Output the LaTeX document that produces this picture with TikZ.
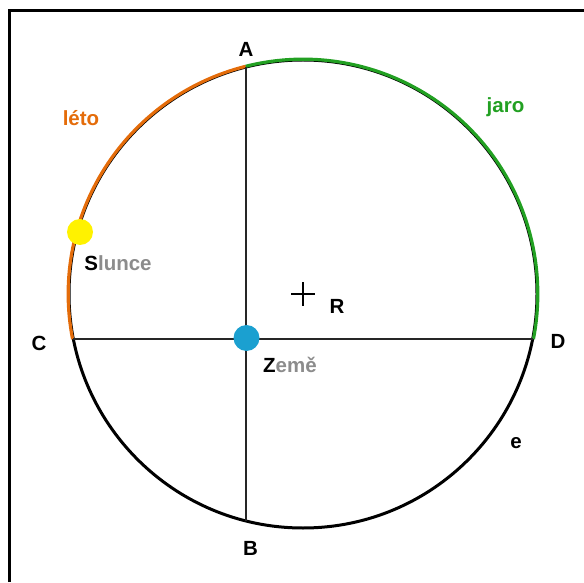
\documentclass[tikz,border=0pt]{standalone}
\usepackage{fontspec}
\usetikzlibrary{calc}
\setmainfont{Liberation Sans}
\definecolor{leto}{RGB}{228,108,10}
\definecolor{jaro}{RGB}{34,160,34}
\definecolor{zeme}{RGB}{27,160,208}
\definecolor{txtgray}{RGB}{140,140,140}
\begin{document}
\begin{tikzpicture}[x=1pt,y=1pt,
  lbl/.style={anchor=base,inner sep=0pt,font=\fontsize{20.5}{24}\selectfont\bfseries},
  dot/.style={circle,inner sep=0pt,minimum size=26pt},
  axis/.style={line width=1.6pt,black!85}]
\useasboundingbox (0,0) rectangle (584,582);
% frame
\draw[line width=3pt] (9.5,0) -- (9.5,571.5) -- (584,571.5);
% centre and points
\coordinate (O) at (303,288);
\coordinate (A) at ($(O)+(104.1:234pt)$);
\coordinate (B) at ($(O)+(255.9:234pt)$);
\coordinate (C) at ($(O)+(191.1:234pt)$);
\coordinate (D) at ($(O)+(-11.1:234pt)$);
% orbit
\draw[line width=3pt] (O) circle[radius=234pt];
\draw[line width=3.2pt,leto] ($(O)+(104.1:234.8pt)$) arc[start angle=104.1,end angle=191.1,radius=234.8pt];
\draw[line width=3.2pt,jaro] ($(O)+(104.1:234.8pt)$) arc[start angle=104.1,end angle=-11.1,radius=234.8pt];
% axes
\draw[axis] (A) -- (B);
\draw[axis] (C) -- (D);
% centre cross
\draw[line width=1.6pt] ($(O)+(-12,0)$) -- ($(O)+(12,0)$) ($(O)+(0,-12)$) -- ($(O)+(0,12)$);
% bodies
\node[dot,fill=yellow] (slunce) at (80,350) {};
\node[dot,fill=zeme] (zeme) at (246.5,244) {};
% labels
\node[lbl] (lA) at (246,525) {A};
\node[lbl] (lB) at (250.5,27) {B};
\node[lbl] (lC) at (39,232) {C};
\node[lbl] (lD) at (558,234) {D};
\node[lbl] (lR) at (337,269) {R};
\node[lbl] (le) at (516,134) {e};
\node[lbl,text=leto] (lleto) at (81,456) {léto};
\node[lbl,text=jaro] (ljaro) at (505.5,469) {jaro};
\node[lbl] (lslunce) at (118,311) {S\textcolor{txtgray}{lunce}};
\node[lbl] (lzeme) at (290,210) {Z\textcolor{txtgray}{emě}};
\end{tikzpicture}
\end{document}
